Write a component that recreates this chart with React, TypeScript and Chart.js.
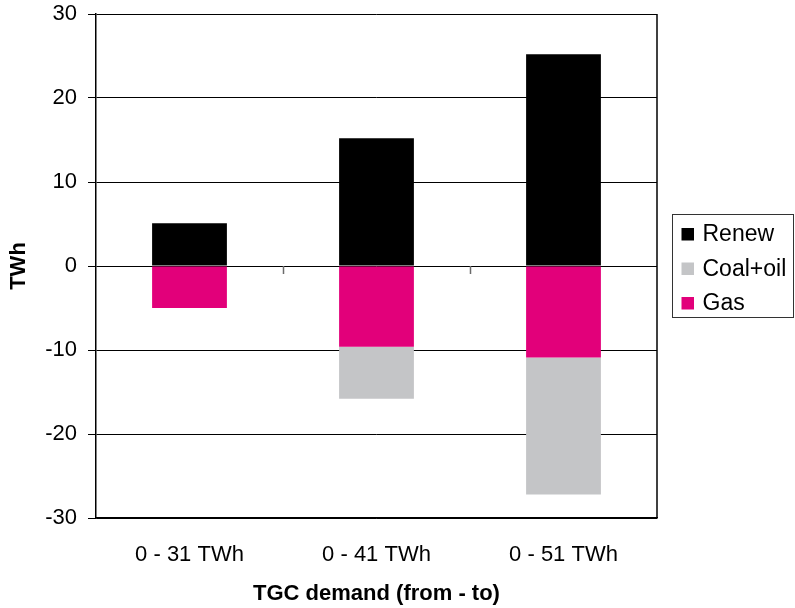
import React, { useEffect, useRef } from "react";
import { Chart, registerables } from "chart.js";

Chart.register(...registerables);

// TWh change per TGC demand band
const categories = ["0 - 31 TWh", "0 - 41 TWh", "0 - 51 TWh"];
const renew = [5.1, 15.2, 25.2];
const gas = [-5.0, -9.6, -10.9];
const coalOil = [0, -6.2, -16.3];
const yTicks = [-30, -20, -10, 0, 10, 20, 30];

const COLORS = {
  renew: "#000000",
  coal: "#C4C5C7",
  gas: "#E2007A",
};

const FONT = "'Liberation Sans', Arial, Helvetica, sans-serif";

// Short marks on the zero line between categories, plus the right-hand frame edge
const framePlugin = {
  id: "frameAndZeroTicks",
  afterDatasetsDraw(chart: any) {
    const { ctx, chartArea, scales } = chart;
    const x = scales.x;
    const y = scales.y;
    const y0 = y.getPixelForValue(0);
    ctx.save();
    ctx.strokeStyle = "#6b6b6b";
    ctx.lineWidth = 1.5;
    for (let i = 0; i < categories.length - 1; i++) {
      const xm = (x.getPixelForValue(i) + x.getPixelForValue(i + 1)) / 2;
      ctx.beginPath();
      ctx.moveTo(Math.round(xm) + 0.5, y0);
      ctx.lineTo(Math.round(xm) + 0.5, y0 + 8);
      ctx.stroke();
    }
    ctx.strokeStyle = "#000";
    ctx.lineWidth = 1.5;
    ctx.beginPath();
    ctx.moveTo(chartArea.right, chartArea.top);
    ctx.lineTo(chartArea.right, chartArea.bottom);
    ctx.stroke();
    ctx.restore();
  },
};

// Boxed legend to the right of the plot
const legendOrder = [0, 2, 1];
const boxLegendPlugin = {
  id: "boxLegend",
  afterDraw(chart: any) {
    const { ctx, chartArea } = chart;
    const left = chartArea.right + 15.5;
    const top = 214.5;
    const w = 121;
    const h = 103;
    ctx.save();
    ctx.strokeStyle = "#333";
    ctx.lineWidth = 1;
    ctx.strokeRect(left, top, w, h);
    ctx.font = `23px ${FONT}`;
    ctx.textBaseline = "middle";
    ctx.textAlign = "left";
    legendOrder.forEach((di, row) => {
      const ds = chart.data.datasets[di];
      const cy = 234 + row * 34.5;
      ctx.fillStyle = ds.backgroundColor;
      ctx.fillRect(left + 9, cy - 6, 12.5, 12.5);
      ctx.fillStyle = "#000";
      ctx.fillText(ds.label, left + 30, cy + 1);
    });
    ctx.restore();
  },
};

export default function App() {
  const ref = useRef<HTMLCanvasElement>(null);

  useEffect(() => {
    if (!ref.current) return;
    const chart = new Chart(ref.current, {
      type: "bar",
      data: {
        labels: categories,
        datasets: [
          { label: "Renew", data: renew, backgroundColor: COLORS.renew },
          { label: "Gas", data: gas, backgroundColor: COLORS.gas },
          { label: "Coal+oil", data: coalOil, backgroundColor: COLORS.coal },
        ],
      },
      options: {
        responsive: false,
        animation: false,
        layout: { padding: { top: 14, right: 138, left: 0, bottom: 0 } },
        datasets: {
          bar: { barPercentage: 0.4, categoryPercentage: 1, borderWidth: 0 },
        },
        plugins: {
          legend: { display: false },
          tooltip: { enabled: false },
        },
        scales: {
          x: {
            stacked: true,
            grid: { display: false, drawTicks: false },
            border: { display: true, color: "#000", width: 1.5 },
            ticks: {
              color: "#000",
              font: { family: FONT, size: 22 },
              padding: 24,
              maxRotation: 0,
              autoSkip: false,
            },
            title: {
              display: true,
              text: "TGC demand (from - to)",
              color: "#000",
              font: { family: FONT, size: 22, weight: "bold" },
              padding: { top: 0, bottom: 1 },
            },
            afterFit: (s: any) => {
              s.height = 90;
            },
          },
          y: {
            stacked: true,
            min: -30,
            max: 30,
            afterBuildTicks: (s: any) => {
              s.ticks = yTicks.map((v) => ({ value: v }));
            },
            grid: { color: "#000", lineWidth: 1, tickLength: 8 },
            border: { display: true, color: "#000", width: 1.5 },
            ticks: {
              color: "#000",
              font: { family: FONT, size: 22 },
              padding: 11,
            },
            title: {
              display: true,
              text: "TWh",
              color: "#000",
              font: { family: FONT, size: 22, weight: "bold" },
              padding: { top: 6, bottom: 0 },
            },
            afterFit: (s: any) => {
              s.width = 96;
              s.paddingTop = 0;
              s.paddingBottom = 0;
            },
          },
        },
      },
      plugins: [framePlugin, boxLegendPlugin],
    });
    return () => chart.destroy();
  }, []);

  return (
    <div style={{ position: "absolute", left: 0, top: 0, width: 795, height: 608, background: "#fff" }}>
      <canvas ref={ref} width={795} height={608} style={{ display: "block" }} />
    </div>
  );
}
